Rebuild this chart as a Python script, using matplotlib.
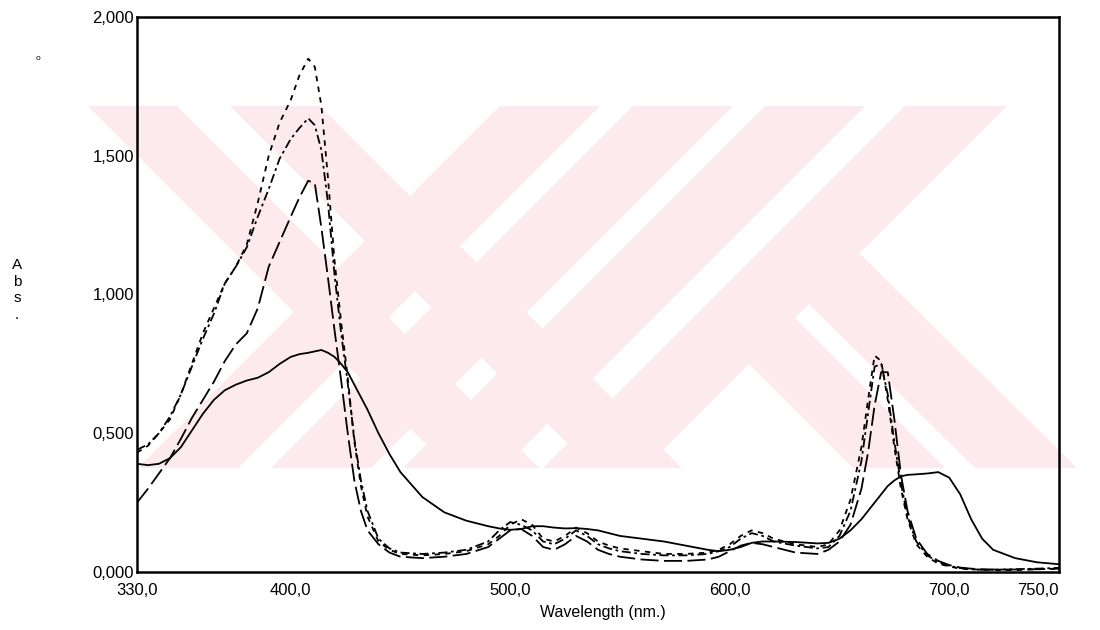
import matplotlib
matplotlib.use("Agg")
import matplotlib.pyplot as plt
from matplotlib.patches import Polygon, Rectangle

# ---------------- data ----------------
wavelength = [330, 335, 340, 345, 350, 355, 360, 365, 370, 375, 380, 385, 390, 395, 400,
              404, 408, 411, 414, 417, 420, 423, 426, 429, 432, 435, 440, 445, 450, 460,
              470, 480, 490, 495, 500, 505, 510, 515, 520, 525, 530, 535, 540, 545, 550,
              560, 570, 580, 590, 595, 600, 605, 610, 615, 620, 630, 640, 645, 650, 655,
              660, 663, 666, 669, 672, 675, 678, 681, 685, 690, 695, 700, 705, 710, 715,
              720, 730, 740, 750]

abs_solid = [0.39, 0.385, 0.39, 0.41, 0.45, 0.51, 0.57, 0.62, 0.655, 0.675, 0.69, 0.70, 0.72, 0.75, 0.775,
             0.785, 0.79, 0.795, 0.80, 0.79, 0.775, 0.75, 0.72, 0.675, 0.63, 0.585, 0.50, 0.425, 0.36, 0.27,
             0.215, 0.185, 0.165, 0.157, 0.152, 0.155, 0.165, 0.165, 0.16, 0.157, 0.158, 0.155, 0.15, 0.14, 0.13,
             0.12, 0.11, 0.095, 0.08, 0.075, 0.08, 0.09, 0.105, 0.11, 0.11, 0.108, 0.103, 0.105, 0.12, 0.15,
             0.19, 0.22, 0.25, 0.28, 0.31, 0.33, 0.345, 0.35, 0.352, 0.355, 0.36, 0.34, 0.28, 0.19, 0.12,
             0.08, 0.05, 0.035, 0.028]

abs_short_dash = [0.43, 0.455, 0.50, 0.55, 0.64, 0.75, 0.86, 0.95, 1.04, 1.10, 1.18, 1.33, 1.50, 1.62, 1.70,
                  1.79, 1.85, 1.82, 1.68, 1.42, 1.12, 0.90, 0.70, 0.47, 0.31, 0.20, 0.11, 0.08, 0.065, 0.06,
                  0.065, 0.075, 0.10, 0.13, 0.17, 0.19, 0.17, 0.12, 0.11, 0.13, 0.16, 0.14, 0.11, 0.095, 0.085,
                  0.075, 0.065, 0.065, 0.07, 0.08, 0.10, 0.13, 0.15, 0.14, 0.12, 0.10, 0.09, 0.10, 0.15, 0.26,
                  0.45, 0.62, 0.78, 0.76, 0.62, 0.45, 0.30, 0.19, 0.10, 0.055, 0.03, 0.02, 0.012, 0.01, 0.008,
                  0.007, 0.007, 0.01, 0.012]

abs_dash_dot = [0.44, 0.46, 0.50, 0.56, 0.64, 0.74, 0.84, 0.93, 1.04, 1.10, 1.17, 1.28, 1.38, 1.49, 1.56,
                1.60, 1.635, 1.61, 1.52, 1.33, 1.07, 0.86, 0.68, 0.48, 0.33, 0.22, 0.12, 0.085, 0.07, 0.065,
                0.07, 0.08, 0.11, 0.15, 0.18, 0.17, 0.15, 0.11, 0.10, 0.12, 0.15, 0.13, 0.10, 0.085, 0.075,
                0.065, 0.06, 0.06, 0.065, 0.075, 0.09, 0.12, 0.14, 0.13, 0.11, 0.095, 0.085, 0.09, 0.13, 0.22,
                0.40, 0.57, 0.74, 0.75, 0.64, 0.47, 0.32, 0.20, 0.11, 0.06, 0.035, 0.022, 0.014, 0.01, 0.008,
                0.008, 0.01, 0.012, 0.015]

abs_long_dash = [0.25, 0.30, 0.355, 0.41, 0.48, 0.555, 0.62, 0.685, 0.76, 0.82, 0.86, 0.95, 1.10, 1.19, 1.28,
                 1.35, 1.41, 1.40, 1.24, 1.06, 0.87, 0.69, 0.50, 0.33, 0.22, 0.15, 0.10, 0.07, 0.055, 0.05,
                 0.055, 0.065, 0.09, 0.12, 0.15, 0.155, 0.13, 0.09, 0.08, 0.10, 0.13, 0.11, 0.08, 0.065, 0.055,
                 0.045, 0.04, 0.04, 0.045, 0.055, 0.075, 0.095, 0.105, 0.10, 0.09, 0.07, 0.065, 0.08, 0.11, 0.17,
                 0.30, 0.43, 0.60, 0.72, 0.72, 0.55, 0.35, 0.22, 0.12, 0.065, 0.04, 0.025, 0.016, 0.012, 0.01,
                 0.009, 0.009, 0.01, 0.012]

x_tick_values = [330, 400, 500, 600, 700, 750]
y_tick_values = [0.0, 0.5, 1.0, 1.5, 2.0]

# ---------------- figure ----------------
W, H = 1100, 630
fig = plt.figure(figsize=(W / 100, H / 100), dpi=100)
fig.patch.set_facecolor("white")


def px(x, y):
    return (x / W, 1 - y / H)


# ---- background watermark (light pink stripes), pixel geometry ----
pink = "#fdeaee"
top, bot = 106, 468
hgt = bot - top
band = Rectangle(px(88, bot), (1090 - 88) / W, hgt / H, transform=fig.transFigure)
shapes = []
# "\" bands given by their x-range at the top edge
for x0, x1 in [(88, 177), (230, 320)]:
    shapes.append([(x0, top), (x1, top), (x1 + hgt, bot), (x0 + hgt, bot)])
# "/" bands given by their x-range at the top edge
for x0, x1 in [(500, 600), (633, 733), (765, 865), (905, 1007)]:
    shapes.append([(x0, top), (x1, top), (x1 - hgt, bot), (x0 - hgt, bot)])
# lower "\" legs leaving the last "/" band
shapes.append([(698, 313), (795, 318), (945, bot), (853, bot)])
shapes.append([(757, 253), (861, 255), (1077, bot), (975, bot)])
for pts in shapes:
    poly = Polygon([px(*p) for p in pts], closed=True, transform=fig.transFigure,
                   facecolor=pink, edgecolor="none", zorder=-5)
    fig.add_artist(poly)
    poly.set_clip_path(band)

# ---- axes ----
ax = fig.add_axes([137 / W, 1 - 572 / H, (1059 - 137) / W, (572 - 17) / H])
ax.set_facecolor("none")

ax.plot(wavelength, abs_solid, color="black", lw=1.3, ls="-")
ax.plot(wavelength, abs_short_dash, color="black", lw=1.3, ls=(0, (3, 3)))
ax.plot(wavelength, abs_dash_dot, color="black", lw=1.3, ls=(0, (5, 2, 1.5, 2)))
ax.plot(wavelength, abs_long_dash, color="black", lw=1.3, ls=(0, (10, 3)))

ax.set_xlim(330, 750)
ax.set_ylim(0, 2.0)

font = "Liberation Sans"
ax.set_xticks(x_tick_values)
ax.set_xticklabels([f"{v:.1f}".replace(".", ",") for v in x_tick_values], fontfamily=font, fontsize=12)
ax.get_xticklabels()[-1].set_horizontalalignment("right")
ax.set_yticks(y_tick_values)
ax.set_yticklabels([f"{v:.3f}".replace(".", ",") for v in y_tick_values], fontfamily=font, fontsize=12)
ax.tick_params(axis="both", which="major", length=0, pad=8)
ax.tick_params(axis="y", which="major", pad=2)

ax.set_xticks([400, 500, 600], minor=True)
ax.set_yticks([0.5, 1.0, 1.5], minor=True)
ax.tick_params(which="minor", direction="in", length=8, width=1.2, top=True, right=True, bottom=True, left=True)

for s in ax.spines.values():
    s.set_linewidth(1.8)
    s.set_color("black")

fig.text(603 / W, 1 - 612 / H, "Wavelength (nm.)", ha="center", va="center", fontfamily=font, fontsize=11.5)
fig.text(17 / W, 1 - 290 / H, "A\nb\ns\n.", ha="center", va="center", fontfamily=font, fontsize=11,
         linespacing=1.25)
fig.text(38 / W, 1 - 58 / H, "o", ha="center", va="center", fontfamily=font, fontsize=6)

fig.savefig("out.png", dpi=100)
